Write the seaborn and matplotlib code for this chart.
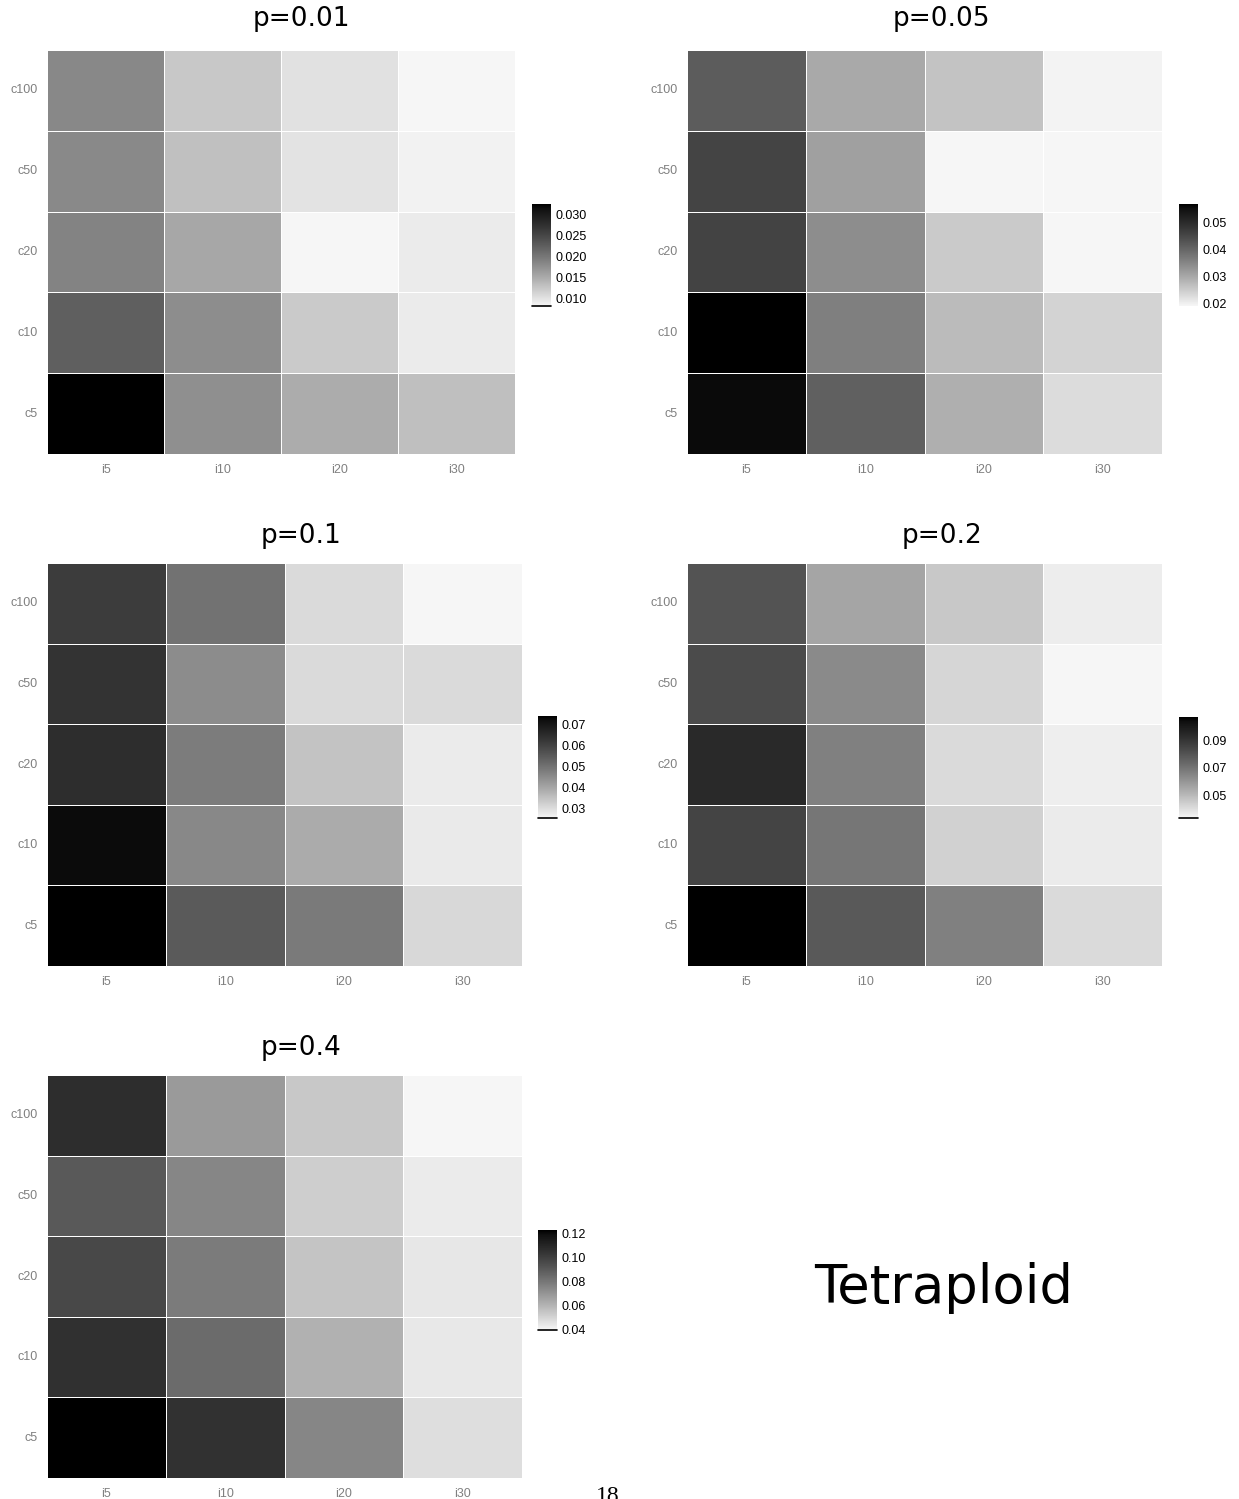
import numpy as np
import pandas as pd
import matplotlib
matplotlib.use("Agg")
import matplotlib.pyplot as plt
from matplotlib.colors import ListedColormap
import seaborn as sns

sns.set_style("white")
plt.rcParams["font.family"] = ["Liberation Sans", "DejaVu Sans"]

# ---- data ----
cols = ["i5", "i10", "i20", "i30"]
rows = ["c100", "c50", "c20", "c10", "c5"]

p001 = [[0.0184, 0.0124, 0.0102, 0.0083],
        [0.0183, 0.0132, 0.0101, 0.0087],
        [0.0189, 0.0155, 0.0083, 0.0093],
        [0.0225, 0.0179, 0.0122, 0.0093],
        [0.0326, 0.0177, 0.0150, 0.0133]]

p005 = [[0.0417, 0.0299, 0.0262, 0.0194],
        [0.0457, 0.0312, 0.0190, 0.0190],
        [0.0459, 0.0340, 0.0251, 0.0189],
        [0.0571, 0.0362, 0.0274, 0.0239],
        [0.0560, 0.0410, 0.0290, 0.0225]]

p01 = [[0.0610, 0.0500, 0.0305, 0.0255],
       [0.0632, 0.0448, 0.0305, 0.0305],
       [0.0644, 0.0479, 0.0346, 0.0275],
       [0.0722, 0.0456, 0.0389, 0.0276],
       [0.0738, 0.0548, 0.0483, 0.0308]]

p02 = [[0.0802, 0.0560, 0.0463, 0.0365],
       [0.0827, 0.0635, 0.0424, 0.0338],
       [0.0939, 0.0664, 0.0413, 0.0363],
       [0.0850, 0.0694, 0.0439, 0.0368],
       [0.1067, 0.0783, 0.0664, 0.0413]]

p04 = [[0.1066, 0.0685, 0.0540, 0.0400],
       [0.0905, 0.0751, 0.0521, 0.0434],
       [0.0966, 0.0787, 0.0552, 0.0446],
       [0.1057, 0.0841, 0.0612, 0.0443],
       [0.1227, 0.1050, 0.0751, 0.0473]]

titles = ["p=0.01", "p=0.05", "p=0.1", "p=0.2", "p=0.4"]
cbar_ticks = [[0.010, 0.015, 0.020, 0.025, 0.030],
              [0.02, 0.03, 0.04, 0.05],
              [0.03, 0.04, 0.05, 0.06, 0.07],
              [0.05, 0.07, 0.09],
              [0.04, 0.06, 0.08, 0.10, 0.12]]
cbar_fmt = ["%.3f", "%.2f", "%.2f", "%.2f", "%.2f"]


# white -> black gradient, linear in L* like ggplot's scale_fill_gradient
def lab_grey(L):
    L = np.asarray(L, dtype=float)
    Y = np.where(L > 8, ((L + 16) / 116) ** 3, L / 903.3)
    return np.where(Y > 0.0031308, 1.055 * Y ** (1 / 2.4) - 0.055, 12.92 * Y)


g = np.clip(lab_grey(np.linspace(97, 0, 256)), 0, 1)
cmap = ListedColormap(np.column_stack([g, g, g]))

W, H = 1239, 1499


def box(x0, y0, x1, y1):
    return [x0 / W, 1 - y1 / H, (x1 - x0) / W, (y1 - y0) / H]


heat_boxes = [(47, 50, 515, 454), (687, 50, 1162, 454),
              (47, 563, 522, 966), (687, 563, 1162, 966),
              (47, 1075, 522, 1478)]
cbar_boxes = [(532, 204, 551, 306), (1179, 204, 1198, 306),
              (538, 716, 557, 818), (1179, 717, 1198, 818),
              (538, 1230, 557, 1330)]
title_pos = [(301, 19), (941, 19), (301, 536), (942, 536), (301, 1048)]
bottom_line = [True, False, True, True, True]

fig = plt.figure(figsize=(W / 100, H / 100), dpi=100)

for i, data in enumerate([p001, p005, p01, p02, p04]):
    df = pd.DataFrame(data, index=rows, columns=cols)
    ax = fig.add_axes(box(*heat_boxes[i]))
    cax = fig.add_axes(box(*cbar_boxes[i]))
    sns.heatmap(df, ax=ax, cbar_ax=cax, cmap=cmap, linewidths=0.6,
                linecolor="white",
                cbar_kws={"ticks": cbar_ticks[i], "format": cbar_fmt[i]})
    ax.set_xlabel("")
    ax.set_ylabel("")
    ax.tick_params(length=0, colors="#808080", labelsize=9, pad=7)
    ax.set_yticklabels(rows, rotation=0)
    ax.set_xticklabels(cols, rotation=0)

    cbar = ax.collections[0].colorbar
    cbar.outline.set_visible(False)
    cax.tick_params(which="both", direction="in", color="white", length=4,
                    width=0.8, left=True, right=True, labelleft=False,
                    labelright=True, labelsize=9, labelcolor="black", pad=3)
    if bottom_line[i]:
        cax.axhline(df.values.min(), color="black", lw=1.2, clip_on=False)

    tx, ty = title_pos[i]
    fig.text(tx / W, 1 - ty / H, titles[i], ha="center", va="center",
             fontsize=19, family="DejaVu Sans", color="black")

fig.text(944 / W, 1 - 1288 / H, "Tetraploid", ha="center", va="center",
         fontsize=38, family="DejaVu Sans", color="black")
# page number, partly cut by the bottom edge as in the source page
fig.text(608 / W, 1 - 1486 / H, "18", ha="center", va="top",
         fontsize=17, family="Liberation Serif", color="black")

fig.savefig("out.png", dpi=100)
